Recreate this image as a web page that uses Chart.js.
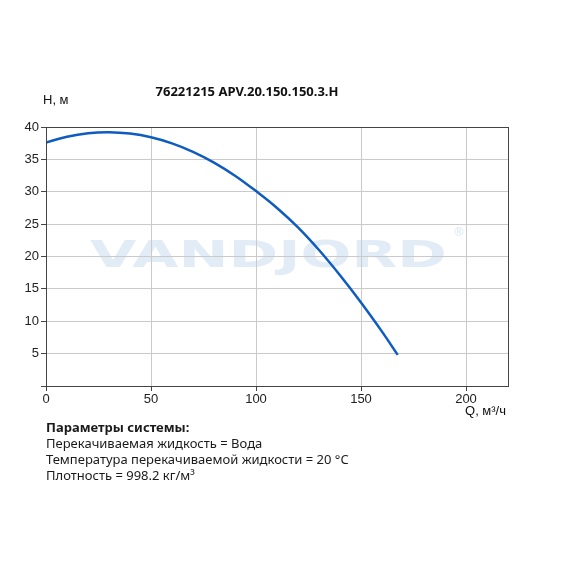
<!DOCTYPE html>
<html>
<head>
<meta charset="utf-8">
<script src="https://cdn.jsdelivr.net/npm/chart.js@4"></script>
<style>
  body { margin: 0; background: #fff; }
  .wrap { position: relative; width: 570px; height: 570px; }
  .params { position: absolute; left: 46px; top: 419px; font-family: "Noto Sans", sans-serif; font-size: 13px; line-height: 16px; color: #1a1a1a; }
  .params b { font-weight: 700; }
</style>
</head>
<body>
<div class="wrap">
  <canvas id="chart" width="570" height="570"></canvas>
  <div class="params">
    <b>Параметры системы:</b><br>
    Перекачиваемая жидкость = Вода<br>
    Температура перекачиваемой жидкости = 20 °C<br>
    Плотность = 998.2 кг/м³
  </div>
</div>
<script>
const title = '76221215 APV.20.150.150.3.H';
const flow = [0, 10, 20, 30, 40, 50, 60, 70, 80, 90, 100, 110, 120, 130, 140, 150, 160, 167.5];
const head = [37.6, 38.5, 39.04, 39.2, 38.99, 38.42, 37.48, 36.17, 34.51, 32.48, 30.1, 27.5, 24.5, 21.0, 17.1, 12.9, 8.4, 4.8];
const xTicks = [0, 50, 100, 150, 200];

// watermark, frame and axis captions
const extras = {
  id: 'extras',
  beforeDraw(chart) {
    const ctx = chart.ctx;
    ctx.save();
    ctx.fillStyle = 'rgba(214, 228, 243, 0.7)';
    ctx.font = 'bold 38px "DejaVu Sans"';
    ctx.textBaseline = 'alphabetic';
    const word = 'VANDJORD';
    const w = ctx.measureText(word).width;
    ctx.translate(90, 267);
    ctx.scale(357 / w, 1);
    ctx.fillText(word, 0, 0);
    ctx.restore();
    ctx.save();
    ctx.fillStyle = 'rgba(214, 228, 243, 0.9)';
    ctx.font = '12px "DejaVu Sans"';
    ctx.fillText('®', 453, 236);
    ctx.restore();
  },
  afterDraw(chart) {
    const ctx = chart.ctx;
    const a = chart.chartArea;
    ctx.save();
    ctx.strokeStyle = '#444';
    ctx.lineWidth = 1;
    ctx.strokeRect(Math.round(a.left) + 0.5, Math.round(a.top) + 0.5, Math.round(a.right - a.left), Math.round(a.bottom - a.top));
    ctx.fillStyle = '#111';
    ctx.font = 'bold 13px "Noto Sans"';
    ctx.textAlign = 'center';
    ctx.textBaseline = 'middle';
    ctx.fillText(title, 247, 92);
    ctx.font = '13px "Liberation Sans"';
    ctx.textAlign = 'left';
    ctx.fillText('H, м', 43, 100);
    ctx.textAlign = 'right';
    ctx.fillText('Q, м³/ч', 506, 411);
    ctx.restore();
  }
};

new Chart(document.getElementById('chart'), {
  type: 'line',
  data: {
    datasets: [{
      data: flow.map((q, i) => ({ x: q, y: head[i] })),
      borderColor: '#0f5cc0',
      borderWidth: 2.5,
      pointRadius: 0,
      fill: false,
      tension: 0.4
    }]
  },
  options: {
    responsive: false,
    animation: false,
    layout: { padding: { top: 127, right: 62, left: 0, bottom: 0 } },
    plugins: { legend: { display: false }, tooltip: { enabled: false } },
    scales: {
      x: {
        type: 'linear',
        min: 0,
        max: 220,
        afterBuildTicks(scale) { scale.ticks = xTicks.map(v => ({ value: v })); },
        afterFit(scale) { scale.height = 570 - 386; },
        grid: { color: '#cacaca', tickColor: '#444', tickLength: 5 },
        border: { color: '#444' },
        ticks: { color: '#222', font: { family: 'Liberation Sans', size: 13 }, padding: 1, maxRotation: 0 }
      },
      y: {
        min: 0,
        max: 40,
        afterFit(scale) { scale.width = 46; },
        grid: { color: '#cacaca', tickColor: '#444', tickLength: 5 },
        border: { color: '#444' },
        ticks: {
          stepSize: 5,
          color: '#222',
          font: { family: 'Liberation Sans', size: 13 },
          padding: 2,
          callback: v => (v === 0 ? '' : v)
        }
      }
    }
  },
  plugins: [extras]
});
</script>
</body>
</html>
